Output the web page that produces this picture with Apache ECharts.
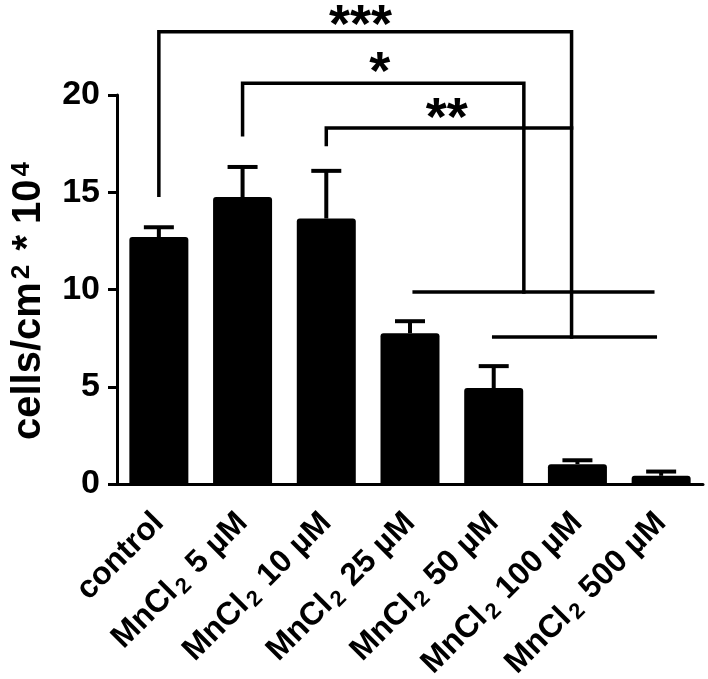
<!DOCTYPE html>
<html>
<head>
<meta charset="utf-8">
<script src="https://cdn.jsdelivr.net/npm/echarts@6/dist/echarts.min.js"></script>
<style>
  html, body { margin: 0; padding: 0; background: #fff; }
  #chart { width: 708px; height: 679px; }
</style>
</head>
<body>
<div id="chart"></div>
<script>
const categories = ['control', 'MnCl2 5 µM', 'MnCl2 10 µM', 'MnCl2 25 µM', 'MnCl2 50 µM', 'MnCl2 100 µM', 'MnCl2 500 µM']
const means = [12.7, 14.75, 13.65, 7.75, 4.93, 1.02, 0.42]
const errors = [0.5, 1.55, 2.45, 0.62, 1.13, 0.2, 0.22]

// significance brackets (x in category index units, y in axis units)
const bracketControl = [[0, 14.85], [0, 23.25], [4.93, 23.25], [4.93, 7.56]]
const bracket5 = [[1, 17.95], [1, 20.6], [4.36, 20.6], [4.36, 9.87]]
const bracket10 = [[2, 17.45], [2, 18.3], [4.93, 18.3]]
const groupHigh = [[3.05, 9.87], [5.9, 9.87]]
const groupLow = [[4.0, 7.56], [5.93, 7.56]]
const stars = ['***', '*', '**']
const starPos = [[2.41, 23.5], [2.64, 21.05], [3.44, 18.7]]

const font = 'Liberation Sans'

const chart = echarts.init(document.getElementById('chart'))

const bracketSeries = [bracketControl, bracket5, bracket10, groupHigh, groupLow].map(pts => ({
  type: 'line',
  xAxisIndex: 1,
  data: pts,
  symbol: 'none',
  clip: false,
  silent: true,
  lineStyle: { color: '#000', width: 3.5, cap: 'square', join: 'miter' }
}))

chart.setOption({
  animation: false,
  grid: { left: 117, right: 5, top: 95, bottom: 195, containLabel: false, outerBoundsMode: 'none' },
  xAxis: [{
    type: 'category',
    data: categories,
    axisLine: { lineStyle: { color: '#000', width: 3 } },
    axisTick: { alignWithLabel: true, length: 9, lineStyle: { color: '#000', width: 3 } },
    axisLabel: {
      interval: 0,
      rotate: 45,
      margin: 34,
      color: '#000',
      formatter: v => v.startsWith('MnCl2')
        ? '{t|MnCl}{s|2}{t|' + v.slice(5) + '}'
        : '{t|' + v + '}',
      rich: {
        t: { fontFamily: font, fontWeight: 'bold', fontSize: 32, lineHeight: 36, color: '#000' },
        s: { fontFamily: font, fontWeight: 'bold', fontSize: 22, lineHeight: 22, color: '#000', verticalAlign: 'bottom', padding: [14, 3, 0, 3] }
      }
    }
  }, {
    type: 'value',
    min: -0.5,
    max: 6.5,
    show: false
  }],
  yAxis: {
    type: 'value',
    min: 0,
    max: 20,
    interval: 5,
    splitLine: { show: false },
    axisLine: { show: true, onZero: false, lineStyle: { color: '#000', width: 3 } },
    axisTick: { show: true, length: 9, lineStyle: { color: '#000', width: 3 } },
    axisLabel: { color: '#000', fontFamily: font, fontWeight: 'bold', fontSize: 34, margin: 17 },
    name: '{t|cells/cm}{p|2}{t| * 10}{p|4}',
    nameLocation: 'middle',
    nameRotate: 90,
    nameGap: 66,
    nameTextStyle: {
      padding: [0, 20, 0, 0],
      rich: {
        t: { fontFamily: font, fontWeight: 'bold', fontSize: 40, lineHeight: 44, color: '#000' },
        p: { fontFamily: font, fontWeight: 'bold', fontSize: 26, lineHeight: 26, color: '#000', verticalAlign: 'top', padding: [2, 3, 0, 3] }
      }
    }
  },
  series: [{
    type: 'bar',
    data: means,
    barWidth: 59,
    itemStyle: { color: '#000', borderRadius: [3, 3, 0, 0] }
  }, {
    type: 'custom',
    data: means.map((m, i) => [i, m, m + errors[i]]),
    renderItem: (params, api) => {
      const base = api.coord([api.value(0), api.value(1)])
      const top = api.coord([api.value(0), api.value(2)])
      const style = { stroke: '#000', lineWidth: 4 }
      return {
        type: 'group',
        children: [
          { type: 'line', shape: { x1: base[0], y1: base[1], x2: top[0], y2: top[1] }, style },
          { type: 'line', shape: { x1: top[0] - 15, y1: top[1], x2: top[0] + 15, y2: top[1] }, style }
        ]
      }
    },
    z: 3
  }, ...bracketSeries, {
    type: 'scatter',
    xAxisIndex: 1,
    data: starPos,
    symbolSize: 0,
    clip: false,
    itemStyle: { opacity: 1 },
    label: {
      show: true,
      position: 'inside',
      formatter: p => stars[p.dataIndex],
      fontFamily: font,
      fontWeight: 'bold',
      fontSize: 54,
      color: '#000'
    }
  }]
})
</script>
</body>
</html>
